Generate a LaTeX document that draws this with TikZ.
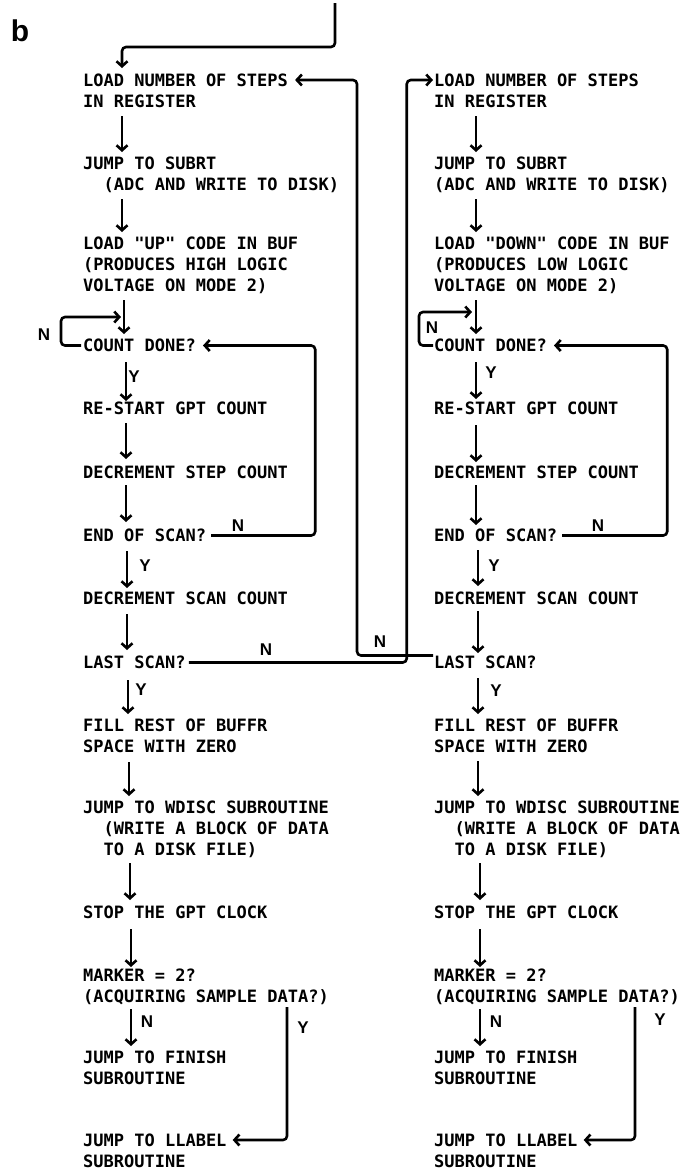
\documentclass[tikz,border=0pt]{standalone}
\usepackage{fontspec}
\setmonofont{DejaVu Sans Mono}
\newfontfamily\tagfont{Liberation Sans}
\usetikzlibrary{arrows.meta}

\begin{document}
\begin{tikzpicture}[x=1pt, y=-1pt,
      stepbox/.style={anchor=north west, inner sep=0pt, align=left, text depth=0pt,
                      font=\fontsize{17}{21}\selectfont\ttfamily\bfseries},
      tag/.style={inner sep=0pt, font=\fontsize{17}{17}\selectfont\tagfont\bfseries},
      arr/.style={-{Straight Barb[length=5pt,width=11pt]}, line width=2.6pt},
      link/.style={arr, rounded corners=4pt}
    ]
    \useasboundingbox (0,0) rectangle (683,1171);
    \node[inner sep=0pt, font=\fontsize{30}{30}\selectfont\tagfont\bfseries] (panel) at (20,31) {b};

    % left column (UP scan)
    \node[stepbox] (lload)    at (83,74)   {LOAD NUMBER OF STEPS\\IN REGISTER};
    \node[stepbox] (lsub)     at (83,157)  {JUMP TO SUBRT\\~~(ADC AND WRITE TO DISK)};
    \node[stepbox] (lcode)    at (83,237)  {LOAD "UP" CODE IN BUF\\(PRODUCES HIGH LOGIC\\VOLTAGE ON MODE 2)};
    \node[stepbox] (ldone)    at (83,339)  {COUNT DONE?};
    \node[stepbox] (lrestart) at (83,402)  {RE-START GPT COUNT};
    \node[stepbox] (lstep)    at (83,466)  {DECREMENT STEP COUNT};
    \node[stepbox] (lend)     at (83,529)  {END OF SCAN?};
    \node[stepbox] (lscan)    at (83,592)  {DECREMENT SCAN COUNT};
    \node[stepbox] (llast)    at (83,656)  {LAST SCAN?};
    \node[stepbox] (lfill)    at (83,719)  {FILL REST OF BUFFR\\SPACE WITH ZERO};
    \node[stepbox] (lwdisc)   at (83,801)  {JUMP TO WDISC SUBROUTINE\\~~(WRITE A BLOCK OF DATA\\~~TO A DISK FILE)};
    \node[stepbox] (lstop)    at (83,906)  {STOP THE GPT CLOCK};
    \node[stepbox] (lmark)    at (83,969)  {MARKER = 2?\\(ACQUIRING SAMPLE DATA?)};
    \node[stepbox] (lfin)     at (83,1051) {JUMP TO FINISH\\SUBROUTINE};
    \node[stepbox] (llab)     at (83,1134) {JUMP TO LLABEL\\SUBROUTINE};

    % right column (DOWN scan)
    \node[stepbox] (rload)    at (434,74)   {LOAD NUMBER OF STEPS\\IN REGISTER};
    \node[stepbox] (rsub)     at (434,157)  {JUMP TO SUBRT\\(ADC AND WRITE TO DISK)};
    \node[stepbox] (rcode)    at (434,237)  {LOAD "DOWN" CODE IN BUF\\(PRODUCES LOW LOGIC\\VOLTAGE ON MODE 2)};
    \node[stepbox] (rdone)    at (434,339)  {COUNT DONE?};
    \node[stepbox] (rrestart) at (434,402)  {RE-START GPT COUNT};
    \node[stepbox] (rstep)    at (434,466)  {DECREMENT STEP COUNT};
    \node[stepbox] (rend)     at (434,529)  {END OF SCAN?};
    \node[stepbox] (rscan)    at (434,592)  {DECREMENT SCAN COUNT};
    \node[stepbox] (rlast)    at (434,656)  {LAST SCAN?};
    \node[stepbox] (rfill)    at (434,719)  {FILL REST OF BUFFR\\SPACE WITH ZERO};
    \node[stepbox] (rwdisc)   at (434,801)  {JUMP TO WDISC SUBROUTINE\\~~(WRITE A BLOCK OF DATA\\~~TO A DISK FILE)};
    \node[stepbox] (rstop)    at (434,906)  {STOP THE GPT CLOCK};
    \node[stepbox] (rmark)    at (434,969)  {MARKER = 2?\\(ACQUIRING SAMPLE DATA?)};
    \node[stepbox] (rfin)     at (434,1051) {JUMP TO FINISH\\SUBROUTINE};
    \node[stepbox] (rlab)     at (434,1134) {JUMP TO LLABEL\\SUBROUTINE};

    % branch labels
    \node[tag] (ln1) at (44,335)   {N};
    \node[tag] (ly1) at (134,377)  {Y};
    \node[tag] (ln2) at (238,526)  {N};
    \node[tag] (ly2) at (145,566)  {Y};
    \node[tag] (ln3) at (266,650)  {N};
    \node[tag] (ly3) at (141,690)  {Y};
    \node[tag] (ln4) at (147,1022) {N};
    \node[tag] (ly4) at (303,1028) {Y};
    \node[tag] (rn1) at (432,328)  {N};
    \node[tag] (ry1) at (491,373)  {Y};
    \node[tag] (rn2) at (598,526)  {N};
    \node[tag] (ry2) at (494,566)  {Y};
    \node[tag] (rn3) at (380,642)  {N};
    \node[tag] (ry3) at (496,691)  {Y};
    \node[tag] (rn4) at (496,1022) {N};
    \node[tag] (ry4) at (660,1020) {Y};

    % entry
    \coordinate (entry) at (335,3);
    \draw[link] (entry) |- ([shift={(39,-27)}]lload.north west) -- ([shift={(39,-6)}]lload.north west);

    % left flow
    \draw[arr] ([shift={(39,8)}]lload.south west)    -- ([shift={(39,-5)}]lsub.north west);
    \draw[arr] ([shift={(39,8)}]lsub.south west)     -- ([shift={(39,-5)}]lcode.north west);
    \draw[arr] ([shift={(41,8)}]lcode.south west)    -- ([shift={(41,-5)}]ldone.north west);
    \draw[arr] ([shift={(43,10)}]ldone.south west)   -- ([shift={(43,-1)}]lrestart.north west);
    \draw[arr] ([shift={(43,8)}]lrestart.south west) -- ([shift={(43,-7)}]lstep.north west);
    \draw[arr] ([shift={(43,6)}]lstep.south west)    -- ([shift={(43,-7)}]lend.north west);
    \draw[arr] ([shift={(44,9)}]lend.south west)     -- ([shift={(44,-4)}]lscan.north west);
    \draw[arr] ([shift={(44,9)}]lscan.south west)    -- ([shift={(44,-6)}]llast.north west);
    \draw[arr] ([shift={(45,11)}]llast.south west)   -- ([shift={(45,-5)}]lfill.north west);
    \draw[arr] ([shift={(46,9)}]lfill.south west)    -- ([shift={(46,-5)}]lwdisc.north west);
    \draw[arr] ([shift={(47,7)}]lwdisc.south west)   -- ([shift={(47,-6)}]lstop.north west);
    \draw[arr] ([shift={(48,10)}]lstop.south west)   -- ([shift={(48,-2)}]lmark.north west);
    \draw[arr] ([shift={(48,6)}]lmark.south west)    -- ([shift={(48,-5)}]lfin.north west);
    \draw[link] ([xshift=-2pt]ldone.west) -- ++(-20,0) |- ([shift={(38,-22)}]ldone.north west);
    \draw[link] ([xshift=5pt]lend.east) -- ++(104,0) |- ([xshift=7pt]ldone.east);
    \draw[link] ([xshift=3pt]llast.east) -- ++(218,0) |- ([shift={(-1,6)}]rload.north west);
    \draw[link] ([shift={(-42,4)}]lmark.south east) |- ([shift={(6,6)}]llab.north east);

    % right flow
    \draw[arr] ([shift={(42,8)}]rload.south west)    -- ([shift={(42,-5)}]rsub.north west);
    \draw[arr] ([shift={(42,8)}]rsub.south west)     -- ([shift={(42,-5)}]rcode.north west);
    \draw[arr] ([shift={(42,8)}]rcode.south west)    -- ([shift={(42,-5)}]rdone.north west);
    \draw[arr] ([shift={(42,10)}]rdone.south west)   -- ([shift={(42,-3)}]rrestart.north west);
    \draw[arr] ([shift={(42,10)}]rrestart.south west) -- ([shift={(42,-4)}]rstep.north west);
    \draw[arr] ([shift={(42,6)}]rstep.south west)    -- ([shift={(42,-4)}]rend.north west);
    \draw[arr] ([shift={(44,8)}]rend.south west)     -- ([shift={(44,-6)}]rscan.north west);
    \draw[arr] ([shift={(44,6)}]rscan.south west)    -- ([shift={(44,-3)}]rlast.north west);
    \draw[arr] ([shift={(44,9)}]rlast.south west)    -- ([shift={(44,-5)}]rfill.north west);
    \draw[arr] ([shift={(44,8)}]rfill.south west)    -- ([shift={(44,-5)}]rwdisc.north west);
    \draw[arr] ([shift={(46,7)}]rwdisc.south west)   -- ([shift={(46,-6)}]rstop.north west);
    \draw[arr] ([shift={(46,10)}]rstop.south west)   -- ([shift={(46,-2)}]rmark.north west);
    \draw[arr] ([shift={(46,6)}]rmark.south west)    -- ([shift={(46,-5)}]rfin.north west);
    \draw[link] ([xshift=-1pt]rdone.west) -- ++(-14,0) |- ([shift={(38,-27)}]rdone.north west);
    \draw[link] ([xshift=5pt]rend.east) -- ++(105,0) |- ([xshift=7pt]rdone.east);
    \draw[link] ([shift={(-1,-7)}]rlast.west) -- ++(-76,0) |- ([shift={(7,6)}]lload.north east);
    \draw[link] ([shift={(-45,4)}]rmark.south east) |- ([shift={(6,6)}]rlab.north east);
  \end{tikzpicture}
\end{document}
